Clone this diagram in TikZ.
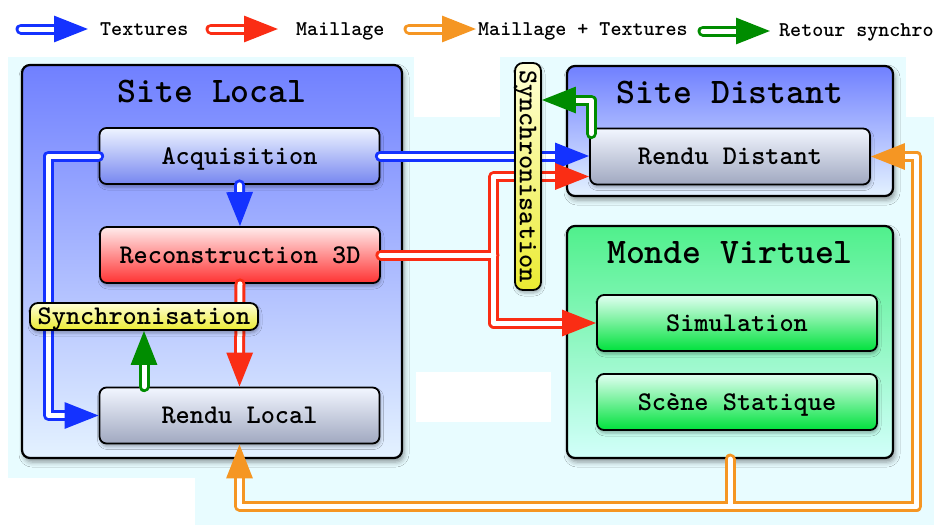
\documentclass[tikz,border=0pt]{standalone}
\usepackage{tikz}
\usetikzlibrary{arrows.meta, positioning, calc, shadows.blur}

\definecolor{texblue}{RGB}{20,50,255}
\definecolor{meshred}{RGB}{250,45,20}
\definecolor{mixorange}{RGB}{245,150,35}
\definecolor{syncgreen}{RGB}{0,140,0}
\definecolor{bgcyan}{RGB}{232,252,255}
\definecolor{zoneblue}{RGB}{112,128,255}
\definecolor{zonepale}{RGB}{228,242,255}
\definecolor{worldgreen}{RGB}{80,240,140}
\definecolor{worldpale}{RGB}{210,255,250}
\definecolor{acqtop}{RGB}{238,244,255}
\definecolor{acqbot}{RGB}{118,134,240}
\definecolor{recontop}{RGB}{255,236,236}
\definecolor{reconbot}{RGB}{255,50,50}
\definecolor{rendutop}{RGB}{242,246,255}
\definecolor{rendubot}{RGB}{160,168,192}
\definecolor{simtop}{RGB}{225,255,242}
\definecolor{simbot}{RGB}{0,225,60}
\definecolor{syncpale}{RGB}{255,255,215}
\definecolor{syncyellow}{RGB}{235,235,50}

\newcommand{\zonefont}{\fontsize{36}{40}\selectfont\ttfamily\bfseries}
\newcommand{\boxfont}{\fontsize{27}{30}\selectfont\ttfamily\bfseries}
\newcommand{\legfont}{\fontsize{21}{24}\selectfont\ttfamily\bfseries}

\tikzset{
  >={Triangle[length=34pt, width=26pt]},
  link/.style={double=white, double distance=5pt, line width=3pt, line cap=round, line join=round},
  textures/.style={link, draw=texblue},
  mesh/.style={link, draw=meshred},
  both/.style={link, draw=mixorange},
  synchro/.style={link, draw=syncgreen},
}

\begin{document}
\begin{tikzpicture}[x=1pt, y=-1pt,
    zone/.style={draw, line width=2.2pt, rounded corners=8pt, blur shadow={shadow xshift=2pt, shadow yshift=-4pt, shadow blur radius=5pt}},
    box/.style={draw, line width=1.8pt, rounded corners=7pt, minimum width=280pt, minimum height=56pt, font=\boxfont, text height=16.5pt, text depth=0pt, blur shadow={shadow xshift=1pt, shadow yshift=-3pt, shadow blur radius=3pt, shadow opacity=30}},
    zonetitle/.style={font=\zonefont, text height=22pt, text depth=0pt},
    synclabel/.style={draw, line width=1.8pt, rounded corners=8pt, top color=syncpale, bottom color=syncyellow, font=\boxfont, text height=16.5pt, text depth=0pt, inner sep=0pt, blur shadow={shadow xshift=1pt, shadow yshift=-3pt, shadow blur radius=3pt, shadow opacity=30}},
    legend/.style={font=\legfont, inner sep=0pt, anchor=west, text height=12.8pt, text depth=0pt}
]
    \useasboundingbox (0,0) rectangle (934,525);
    % page and backdrop
    \fill[white] (0,0) rectangle (934,525);
    \fill[bgcyan] (8,57) rectangle (934,525);
    \fill[white] (0,478) rectangle (195,525);
    \fill[white] (414,57) rectangle (500,117);
    \fill[white] (906,57) rectangle (934,117);
    \fill[white] (416,372) rectangle (551,422);

    % legend
    \node[legend] (ltex) at (100,29) {Textures};
    \node[legend] (lmesh) at (296,29) {Maillage};
    \node[legend] (lboth) at (478,29) {Maillage + Textures};
    \node[legend] (lsync) at (779,30) {Retour synchro};
    \coordinate (ktex) at (21,29);
    \coordinate (kmesh) at (211,29);
    \coordinate (kboth) at (409,29);
    \coordinate (ksync) at (703,31);
    \draw[textures, ->] (ktex) -- ([xshift=-12pt]ltex.west);
    \draw[mesh, ->] (kmesh) -- ([xshift=-18pt]lmesh.west);
    \draw[both, ->] (kboth) -- ([xshift=-2pt]lboth.west);
    \draw[synchro, ->] (ksync) -- ([xshift=-9pt]lsync.west |- ksync);

    % zones
    \node[zone, top color=zoneblue, bottom color=zonepale, minimum width=380pt, minimum height=393pt] (local) at (212,261.5) {};
    \node[zone, top color=zoneblue, bottom color=zonepale, minimum width=326pt, minimum height=130pt] (distant) at (730,131) {};
    \node[zone, top color=worldgreen, bottom color=worldpale, minimum width=326pt, minimum height=232pt] (monde) at (730,342) {};
    \node[zonetitle] (localtitle) at ($(local.north)+(0,28)$) {Site Local};
    \node[zonetitle] (distanttitle) at ($(distant.north)+(0,28)$) {Site Distant};
    \node[zonetitle] (mondetitle) at ($(monde.north)+(0,28)$) {Monde Virtuel};

    % processing blocks
    \node[box, top color=acqtop, bottom color=acqbot] (acq) at (239.5,156) {Acquisition};
    \node[box, top color=recontop, bottom color=reconbot] (recon) at (240,255) {Reconstruction 3D};
    \node[box, top color=rendutop, bottom color=rendubot] (rlocal) at (239.5,415.5) {Rendu Local};
    \node[box, top color=rendutop, bottom color=rendubot] (rdist) at (730,156.5) {Rendu Distant};
    \node[box, top color=simtop, bottom color=simbot] (sim) at (737,323) {Simulation};
    \node[box, top color=simtop, bottom color=simbot] (scene) at (737,402) {Scène Statique};

    % textures
    \draw[textures, ->] (acq.west) -- ++(-50,0) |- (rlocal.west);
    \draw[textures, ->] (acq.south) -- (recon.north);
    \draw[textures, ->] (acq.east) -- (acq.east -| rdist.west);

    % mesh: one path so the branches merge, tips on the last piece
    \coordinate (jmesh) at ($(recon.east)+(113,0)$);
    \draw[mesh, <->] (recon.east) -- (jmesh) (sim.west) -| (jmesh) |- ($(rdist.west)+(0,20)$);
    \draw[mesh, ->] (recon.south) -- (rlocal.north);

    % mesh + textures
    \coordinate (jboth) at (730,506);
    \draw[both, <->] (monde.south) -- (jboth) (rlocal.south) |- (jboth) -| ($(rdist.east)+(46,0)$) -- (rdist.east);

    % synchronisation
    \node[synclabel, minimum width=228pt, minimum height=27pt] (syncl) at (144,316.5) {Synchronisation};
    \node[synclabel, rotate=-90, minimum width=227pt, minimum height=26pt] (syncv) at (528,176.5) {Synchronisation};
    \draw[synchro, ->] (syncl.south |- rlocal.north) -- (syncl.south);
    \draw[synchro, ->] ($(rdist.north west)+(2,6)$) |- (syncv.north |- 0,100);
\end{tikzpicture}
\end{document}
